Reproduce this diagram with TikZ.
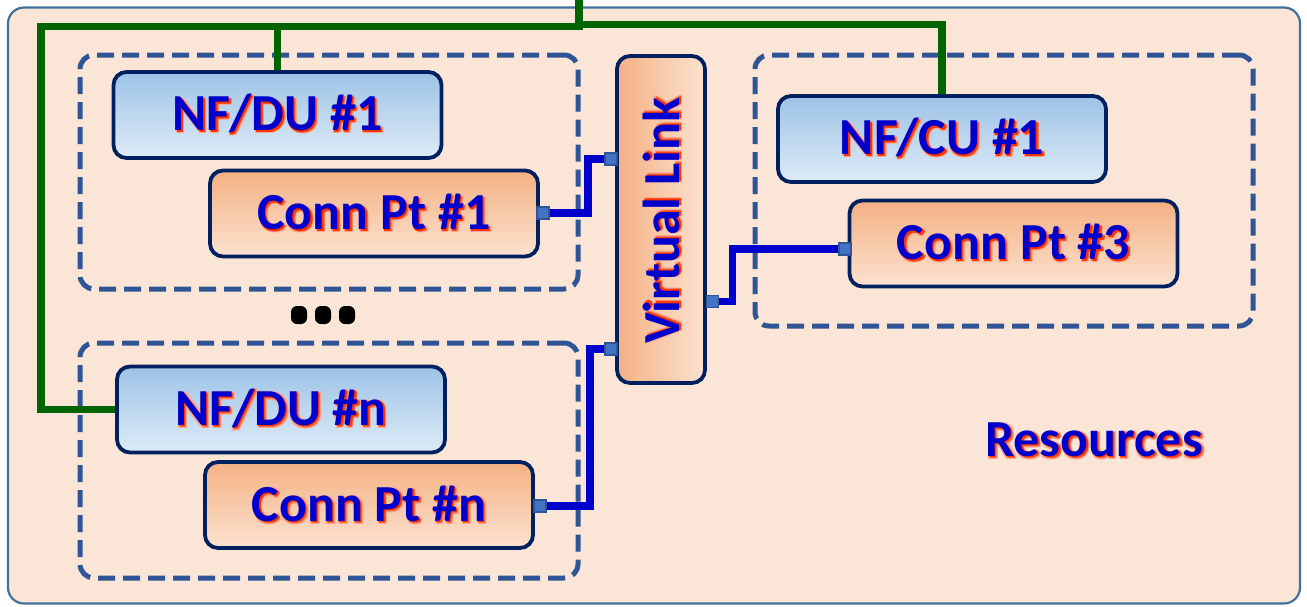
\documentclass[tikz,border=0pt]{standalone}
\usepackage{fontspec}
\setmainfont{Carlito}
\usetikzlibrary{calc}
\definecolor{bgpeach}{HTML}{FBE5D6}
\definecolor{framec}{HTML}{41719C}
\definecolor{dashc}{HTML}{2F5597}
\definecolor{navy}{HTML}{002060}
\definecolor{txtblue}{HTML}{0000CC}
\definecolor{glowred}{HTML}{FF3300}
\definecolor{gline}{HTML}{006400}
\definecolor{bline}{HTML}{0000CC}
\definecolor{portc}{HTML}{4472C4}
\definecolor{bluetop}{HTML}{9DC3E6}
\definecolor{bluebot}{HTML}{DEEBF7}
\definecolor{orgtop}{HTML}{F4B183}
\definecolor{orgbot}{HTML}{FBE2D0}
\newcommand\glowcopy[3]{\rlap{\kern#1\raisebox{-#2}{\color{#3}\glowarg}}}
\newcommand\glowtext[1]{\leavevmode\def\glowarg{#1}%
  \glowcopy{3pt}{3pt}{glowred!35!bgpeach}%
  \glowcopy{0.6pt}{3pt}{glowred!35!bgpeach}%
  \glowcopy{3pt}{0.6pt}{glowred!35!bgpeach}%
  \glowcopy{2.2pt}{2.2pt}{glowred!70!bgpeach}%
  \glowcopy{1.4pt}{1.6pt}{glowred}%
  {\color{txtblue}#1}}
\begin{document}
\begin{tikzpicture}[x=1pt,y=-1pt,
  lbl/.style={font=\bfseries\fontsize{52}{60}\selectfont, inner sep=0pt},
  nfbox/.style={lbl, draw=navy, line width=3.8pt, rounded corners=13pt, top color=bluetop, bottom color=bluebot, minimum width=328pt, minimum height=86pt},
  cpbox/.style={nfbox, top color=orgtop, bottom color=orgbot},
  grp/.style={draw=dashc, line width=5pt, dash pattern=on 17pt off 8pt, rounded corners=14pt, minimum width=498pt, inner sep=0pt},
  port/.style={draw=dashc, fill=portc, line width=1.4pt, minimum size=12pt, inner sep=0pt},
  gwire/.style={draw=gline, line width=7.5pt},
  bwire/.style={draw=bline, line width=7.5pt},
  dotm/.style={fill=black, rounded corners=6pt, minimum width=16pt, minimum height=18pt, inner sep=0pt},
  ]
\path[use as bounding box] (0,0) rectangle (1307,606);
\node[draw=framec, fill=bgpeach, line width=2.2pt, rounded corners=16pt, minimum width=1292pt, minimum height=596pt, inner sep=0pt] (outer) at (654,305.5) {};
% dashed groups
\node[grp, minimum height=234pt] (g1) at (329,172) {};
\node[grp, minimum height=235pt] (gn) at (329,460.5) {};
\node[grp, minimum height=271pt] (gc) at (1004,190.5) {};
% boxes
\node[nfbox] (du1) at (277.5,115) {\glowtext{NF/DU \#1}};
\node[cpbox] (cp1) at (374,213.5) {\glowtext{Conn Pt \#1}};
\node[nfbox] (dun) at (281,409.5) {\glowtext{NF/DU \#n}};
\node[cpbox] (cpn) at (369,505) {\glowtext{Conn Pt \#n}};
\node[nfbox] (cu1) at (942,139) {\glowtext{NF/CU \#1}};
\node[cpbox] (cp3) at (1013.5,243.5) {\glowtext{Conn Pt \#3}};
\node[lbl, draw=navy, line width=3.8pt, rounded corners=13pt, left color=orgtop, right color=orgbot, minimum width=88pt, minimum height=327pt] (vl) at (661,219.5) {};
\node[lbl, rotate=90] (vltext) at (663,221) {\glowtext{Virtual Link}};
% green wires
\coordinate (gtop) at (579,0);
\coordinate (gj) at (579,26.5);
\draw[gwire] (gtop) -- ++(0,24.5) -| (cu1.north);
\draw[gwire] (gtop) -- (gj) -- ++(-538,0) |- (dun.west);
\draw[gwire] (gj) -| (du1.north);
% ports
\coordinate (p1c) at (543,213);
\coordinate (pv1c) at (611,159);
\coordinate (pv2c) at (611,349);
\coordinate (pvrc) at (712.5,301.5);
\coordinate (pnc) at (540,506);
\coordinate (p3c) at (845,249);
\draw[bwire] (p1c) -- ++(45,0) |- (pv1c);
\draw[bwire] (pnc) -- ++(50,0) |- (pv2c);
\draw[bwire] (pvrc) -- ++(20,0) |- (p3c);
\node[port] (p1) at (p1c) {};
\node[port] (pv1) at (pv1c) {};
\node[port] (pv2) at (pv2c) {};
\node[port] (pvr) at (pvrc) {};
\node[port] (pn) at (pnc) {};
\node[port] (p3) at (p3c) {};
% dots
\node[dotm] (d1) at (299,315) {};
\node[dotm] (d2) at (323,315) {};
\node[dotm] (d3) at (347,315) {};
% resources label
\node[lbl] (res) at (1094,441) {\glowtext{Resources}};
\end{tikzpicture}
\end{document}
